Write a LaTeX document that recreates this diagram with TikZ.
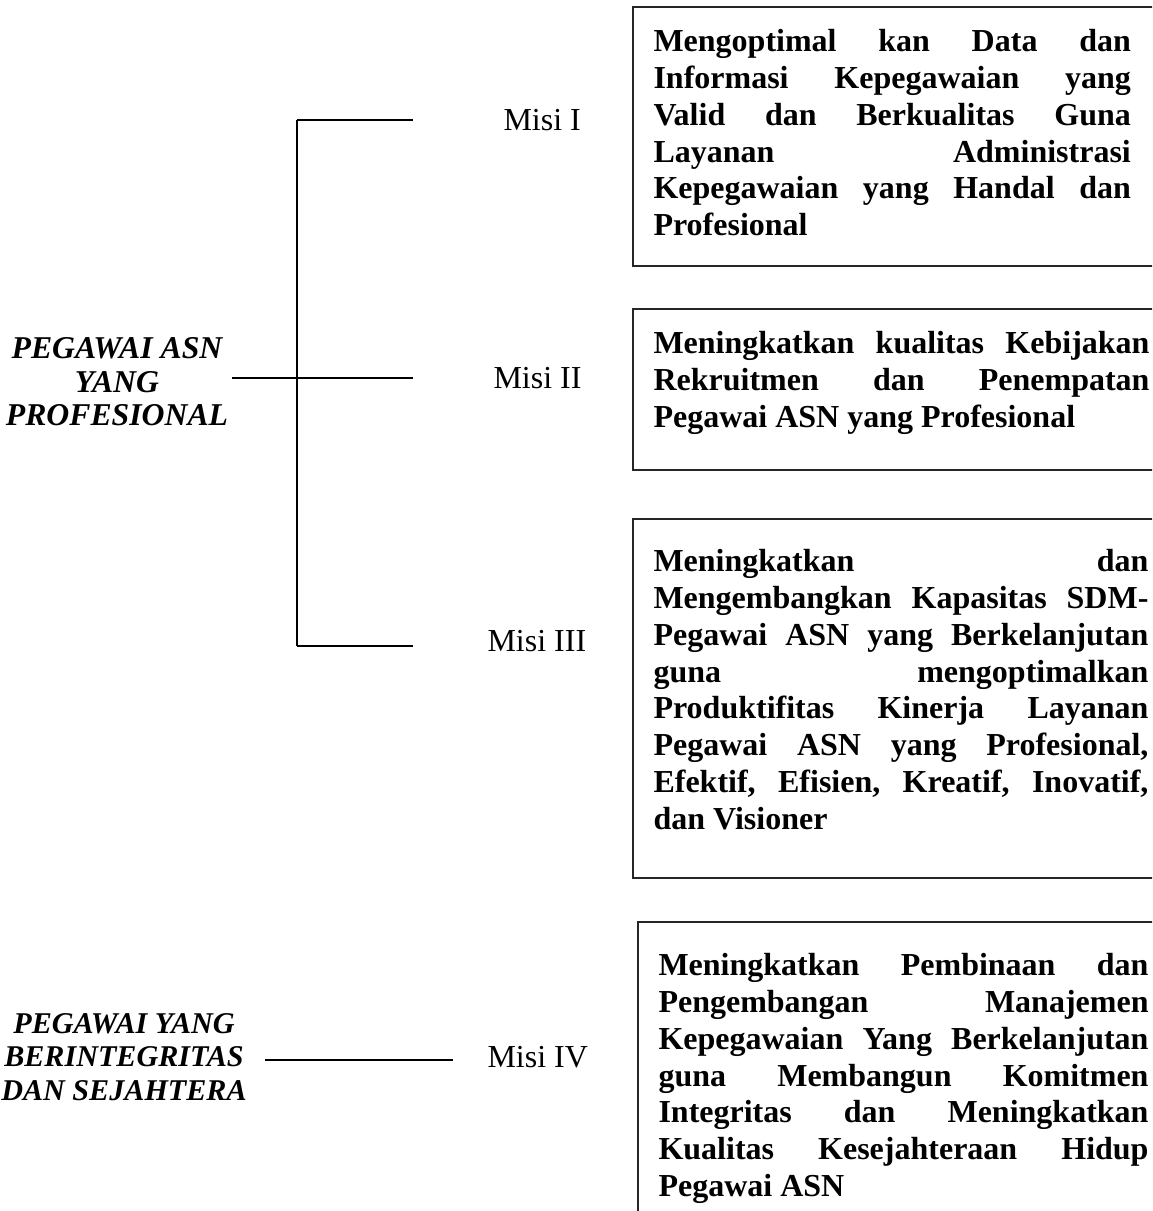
\documentclass[tikz,border=0pt]{standalone}
\usepackage{fontspec}
\setmainfont{Liberation Serif}
\usetikzlibrary{calc}

\begin{document}
\begin{tikzpicture}[x=0.375pt,y=-0.375pt,
  link/.style={line width=0.8pt},
  frame/.style={line width=0.8pt,draw=black!85},
  misi/.style={font={\fontsize{12}{13.8}\selectfont},inner sep=0pt,anchor=west},
  goal/.style={font={\fontsize{#1}{12.6}\selectfont\bfseries\itshape},align=center},
  misitext/.style={font={\fontsize{12}{13.8}\selectfont\bfseries\hyphenpenalty=10000\tolerance=10000},
    align=justify,inner sep=0pt,anchor=north west,text width=#1}]
\useasboundingbox (0,0) rectangle (1152,1211);
\clip (0,0) rectangle (1152,1211);

\coordinate (t1) at (297,120);
\coordinate (t3) at (297,646);
\coordinate (e1) at (413,120);
\coordinate (s2) at (232,378);
\coordinate (e2) at (413,378);
\coordinate (e3) at (413,646);
\coordinate (s4) at (265,1060);
\coordinate (e4) at (453,1060);

\node[goal=11.9] (asn) at (117,382) {PEGAWAI ASN\\YANG\\PROFESIONAL};
\node[goal=11.3] (int) at (124,1057) {PEGAWAI YANG\\BERINTEGRITAS\\DAN SEJAHTERA};

\node[misi] (m1) at (503,120) {Misi I};
\node[misi] (m2) at (493,378) {Misi II};
\node[misi] (m3) at (487,641) {Misi III};
\node[misi] (m4) at (487,1057) {Misi IV};

\draw[link] (t1) -- (t3);
\draw[link] (t1) -- (e1);
\draw[link] (s2) -- (e2);
\draw[link] (t3) -- (e3);
\draw[link] (s4) -- (e4);

\draw[frame] (633,7) rectangle (1200,266);
\draw[frame] (633,309) rectangle (1200,470);
\draw[frame] (633,519) rectangle (1200,878);
\draw[frame] (638,922) rectangle (1200,1260);

\node[misitext=179pt] (v1) at (653,29) {Mengoptimal kan Data dan\linebreak
  Informasi Kepegawaian yang\linebreak
  Valid dan Berkualitas Guna\linebreak
  Layanan Administrasi\linebreak
  Kepegawaian yang Handal dan\linebreak
  Profesional};
\node[misitext=186pt] (v2) at (653,331) {Meningkatkan kualitas Kebijakan\linebreak
  Rekruitmen dan Penempatan\linebreak
  Pegawai ASN yang Profesional};
\node[misitext=185.6pt] (v3) at (653,549) {Meningkatkan dan\linebreak
  Mengembangkan Kapasitas SDM-\linebreak
  Pegawai ASN yang Berkelanjutan\linebreak
  guna mengoptimalkan\linebreak
  Produktifitas Kinerja Layanan\linebreak
  Pegawai ASN yang Profesional,\linebreak
  Efektif, Efisien, Kreatif, Inovatif,\linebreak
  dan Visioner};
\node[misitext=183.75pt] (v4) at (658,953) {Meningkatkan Pembinaan dan\linebreak
  Pengembangan Manajemen\linebreak
  Kepegawaian Yang Berkelanjutan\linebreak
  guna Membangun Komitmen\linebreak
  Integritas dan Meningkatkan\linebreak
  Kualitas Kesejahteraan Hidup\linebreak
  Pegawai ASN};
\end{tikzpicture}
\end{document}
